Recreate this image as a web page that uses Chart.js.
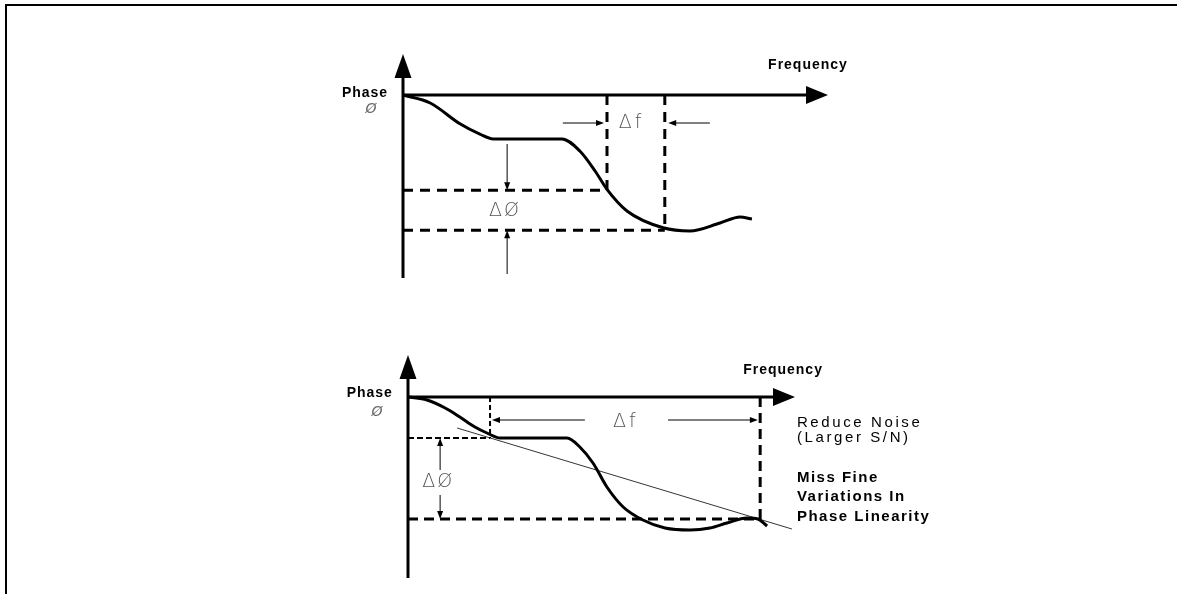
<!DOCTYPE html>
<html>
<head>
<meta charset="utf-8">
<script src="https://cdn.jsdelivr.net/npm/chart.js@4.4.1/dist/chart.umd.min.js"></script>
<style>
  html, body { margin: 0; padding: 0; background: #fff; }
  body { width: 1177px; height: 594px; position: relative; overflow: hidden; }
  .frame { position: absolute; left: 5px; top: 4px; right: -10px; bottom: -10px; border-top: 2px solid #000; border-left: 2px solid #000; }
  canvas { position: absolute; left: 0; }
  #top { top: 0; }
  #bottom { top: 297px; }
</style>
</head>
<body>
<div class="frame"></div>
<canvas id="top" width="1177" height="297"></canvas>
<canvas id="bottom" width="1177" height="297"></canvas>
<script>
// upper diagram: phase vs frequency, narrow aperture
const topFreq  = [0, 6.4, 13.4, 18.1, 21.2, 37.4, 41.6, 45.2, 48, 52.7, 61.2, 67.5, 74.6, 79.3, 82.1];
const topPhase = [0, -2, -7.2, -9.8, -11, -11, -14, -19, -23.6, -29, -33.2, -34, -32, -30.5, -31];
const topAperture = [48, 61.6];        // frequency markers
const topPhaseLevels = [-23.8, -33.8]; // phase markers

// lower diagram: wide aperture, fitted line
const botFreq  = [0, 4.9, 9.6, 13.4, 17.3, 20.4, 23.8, 41.1, 44.4, 47.8, 51.4, 55.6, 60.7, 66.4, 72.9, 78, 82.4, 87.6, 90.4, 92.8];
const botPhase = [0, -0.75, -2.75, -5, -7.5, -9, -10.25, -10.25, -12.5, -16.5, -22.5, -27.5, -30.75, -32.75, -33.25, -32.75, -31.5, -30.25, -30.5, -32.25];
const botAperture = [21.2, 91];
const botPhaseLevels = [-10.25, -30.5];
const fitLine = [[12.7, -7.75], [99.2, -33]];

const pts = (xs, ys) => xs.map((x, i) => ({ x: x, y: ys[i] }));

function arrowLine(ctx, x1, y1, x2, y2, len, half, width) {
  const a = Math.atan2(y2 - y1, x2 - x1);
  ctx.lineWidth = width;
  ctx.beginPath();
  ctx.moveTo(x1, y1);
  ctx.lineTo(x2 - Math.cos(a) * len * 0.8, y2 - Math.sin(a) * len * 0.8);
  ctx.stroke();
  ctx.beginPath();
  ctx.moveTo(x2, y2);
  ctx.lineTo(x2 - Math.cos(a) * len - Math.sin(a) * half, y2 - Math.sin(a) * len + Math.cos(a) * half);
  ctx.lineTo(x2 - Math.cos(a) * len + Math.sin(a) * half, y2 - Math.sin(a) * len - Math.cos(a) * half);
  ctx.closePath();
  ctx.fill();
}

const diagram = {
  id: 'diagram',
  afterDatasetsDraw: (chart, args, opts) => {
    const { ctx, scales: { x, y } } = chart;
    const px = v => x.getPixelForValue(v);
    const py = v => y.getPixelForValue(v);
    ctx.save();
    ctx.strokeStyle = '#000';
    ctx.fillStyle = '#000';
    ctx.lineCap = 'butt';
    // axes with arrow heads
    arrowLine(ctx, px(0), py(y.min), px(0), py(y.max), 24, 8.5, 3);
    arrowLine(ctx, px(0) - 1, py(0), px(x.max), py(0), 22, 9, 3);
    // thin annotation arrows
    (opts.arrows || []).forEach(a => {
      arrowLine(ctx, px(a[0]), py(a[1]), px(a[2]), py(a[3]), 8, 3, 1);
    });
    // labels
    (opts.labels || []).forEach(l => {
      ctx.font = l.font;
      ctx.fillStyle = l.color || '#000';
      ctx.letterSpacing = l.spacing || '0px';
      ctx.textAlign = l.align || 'center';
      ctx.textBaseline = 'middle';
      ctx.fillText(l.text, px(l.x), py(l.y));
    });
    ctx.restore();
  }
};

const bold = "bold 14px 'Liberation Sans', Arial, sans-serif";
const boldNote = "bold 15px 'Liberation Sans', Arial, sans-serif";
const note = "15px 'Liberation Sans', Arial, sans-serif";
const thin = "300 19px 'DejaVu Sans', sans-serif";
const phi = "italic 300 14px 'DejaVu Sans', sans-serif";

function baseOptions(pad, yMin, yMax, diagramOpts) {
  return {
    responsive: false,
    animation: false,
    devicePixelRatio: 1,
    layout: { padding: pad },
    plugins: { legend: { display: false }, tooltip: { enabled: false }, diagram: diagramOpts },
    scales: {
      x: { type: 'linear', display: false, min: 0, max: 100 },
      y: { type: 'linear', display: false, min: yMin, max: yMax }
    }
  };
}

function dashed(points, width, dash) {
  return { data: points, borderColor: '#000', borderWidth: width, borderDash: dash, pointRadius: 0, fill: false, clip: false, tension: 0 };
}

new Chart(document.getElementById('top'), {
  type: 'line',
  data: {
    datasets: [
      { data: pts(topFreq, topPhase), borderColor: '#000', borderWidth: 3, pointRadius: 0, cubicInterpolationMode: 'monotone', fill: false, clip: false },
      dashed([{ x: 0, y: topPhaseLevels[0] }, { x: topAperture[0], y: topPhaseLevels[0] }], 3, [10, 7]),
      dashed([{ x: 0, y: topPhaseLevels[1] }, { x: topAperture[1], y: topPhaseLevels[1] }], 3, [10, 7]),
      dashed([{ x: topAperture[0], y: 0 }, { x: topAperture[0], y: topPhaseLevels[0] }], 3, [10, 7]),
      dashed([{ x: topAperture[1], y: 0 }, { x: topAperture[1], y: -33.6 }], 3, [10, 7])
    ]
  },
  options: baseOptions({ left: 403, right: 349, top: 54, bottom: 19 }, -45.75, 10.25, {
    arrows: [
      [24.5, -12.25, 24.5, topPhaseLevels[0]],
      [24.5, -44.75, 24.5, topPhaseLevels[1]],
      [37.6, -7, 47.3, -7],
      [72.2, -7, 62.4, -7]
    ],
    labels: [
      { text: 'Phase', x: -3.5, y: 0.5, font: bold, align: 'right', spacing: '1px' },
      { text: 'Ø', x: -7.5, y: -3.5, font: phi, color: '#666' },
      { text: 'Frequency', x: 85.9, y: 7.5, font: bold, align: 'left', spacing: '1px' },
      { text: 'ΔØ', x: 24, y: -29, font: thin, color: '#555', spacing: '2px' },
      { text: 'Δf', x: 53.8, y: -7, font: thin, color: '#555', spacing: '3px' }
    ]
  }),
  plugins: [diagram]
});

new Chart(document.getElementById('bottom'), {
  type: 'line',
  data: {
    datasets: [
      { data: pts(botFreq, botPhase), borderColor: '#000', borderWidth: 3, pointRadius: 0, cubicInterpolationMode: 'monotone', fill: false, clip: false },
      { data: fitLine.map(p => ({ x: p[0], y: p[1] })), borderColor: '#000', borderWidth: 0.8, pointRadius: 0, fill: false, clip: false },
      dashed([{ x: 0, y: botPhaseLevels[0] }, { x: botAperture[0], y: botPhaseLevels[0] }], 2, [6, 3]),
      dashed([{ x: botAperture[0], y: 0 }, { x: botAperture[0], y: botPhaseLevels[0] }], 2, [5, 3]),
      dashed([{ x: 0, y: botPhaseLevels[1] }, { x: botAperture[1], y: botPhaseLevels[1] }], 3, [10, 6]),
      dashed([{ x: botAperture[1], y: 0 }, { x: botAperture[1], y: botPhaseLevels[1] }], 3, [10, 6])
    ]
  },
  options: baseOptions({ left: 408, right: 382, top: 58, bottom: 16 }, -45.25, 10.5, {
    arrows: [
      [45.7, -5.75, 21.7, -5.75],
      [67.2, -5.75, 90.4, -5.75],
      [8.3, -18.25, 8.3, botPhaseLevels[0]],
      [8.3, -24.5, 8.3, botPhaseLevels[1]]
    ],
    labels: [
      { text: 'Phase', x: -3.9, y: 1, font: bold, align: 'right', spacing: '1px' },
      { text: 'Ø', x: -8, y: -3.75, font: phi, color: '#666' },
      { text: 'Frequency', x: 86.6, y: 6.75, font: bold, align: 'left', spacing: '1px' },
      { text: 'Δf', x: 56.3, y: -6.25, font: thin, color: '#555', spacing: '3px' },
      { text: 'ΔØ', x: 7.8, y: -21.25, font: thin, color: '#555', spacing: '2px' },
      { text: 'Reduce Noise', x: 100.5, y: -6.5, font: note, align: 'left', spacing: '2.6px' },
      { text: '(Larger S/N)', x: 100.5, y: -10.25, font: note, align: 'left', spacing: '2.6px' },
      { text: 'Miss Fine', x: 100.5, y: -20.25, font: boldNote, align: 'left', spacing: '1.5px' },
      { text: 'Variations In', x: 100.5, y: -25, font: boldNote, align: 'left', spacing: '1.5px' },
      { text: 'Phase Linearity', x: 100.5, y: -30, font: boldNote, align: 'left', spacing: '1.5px' }
    ]
  }),
  plugins: [diagram]
});
</script>
</body>
</html>
